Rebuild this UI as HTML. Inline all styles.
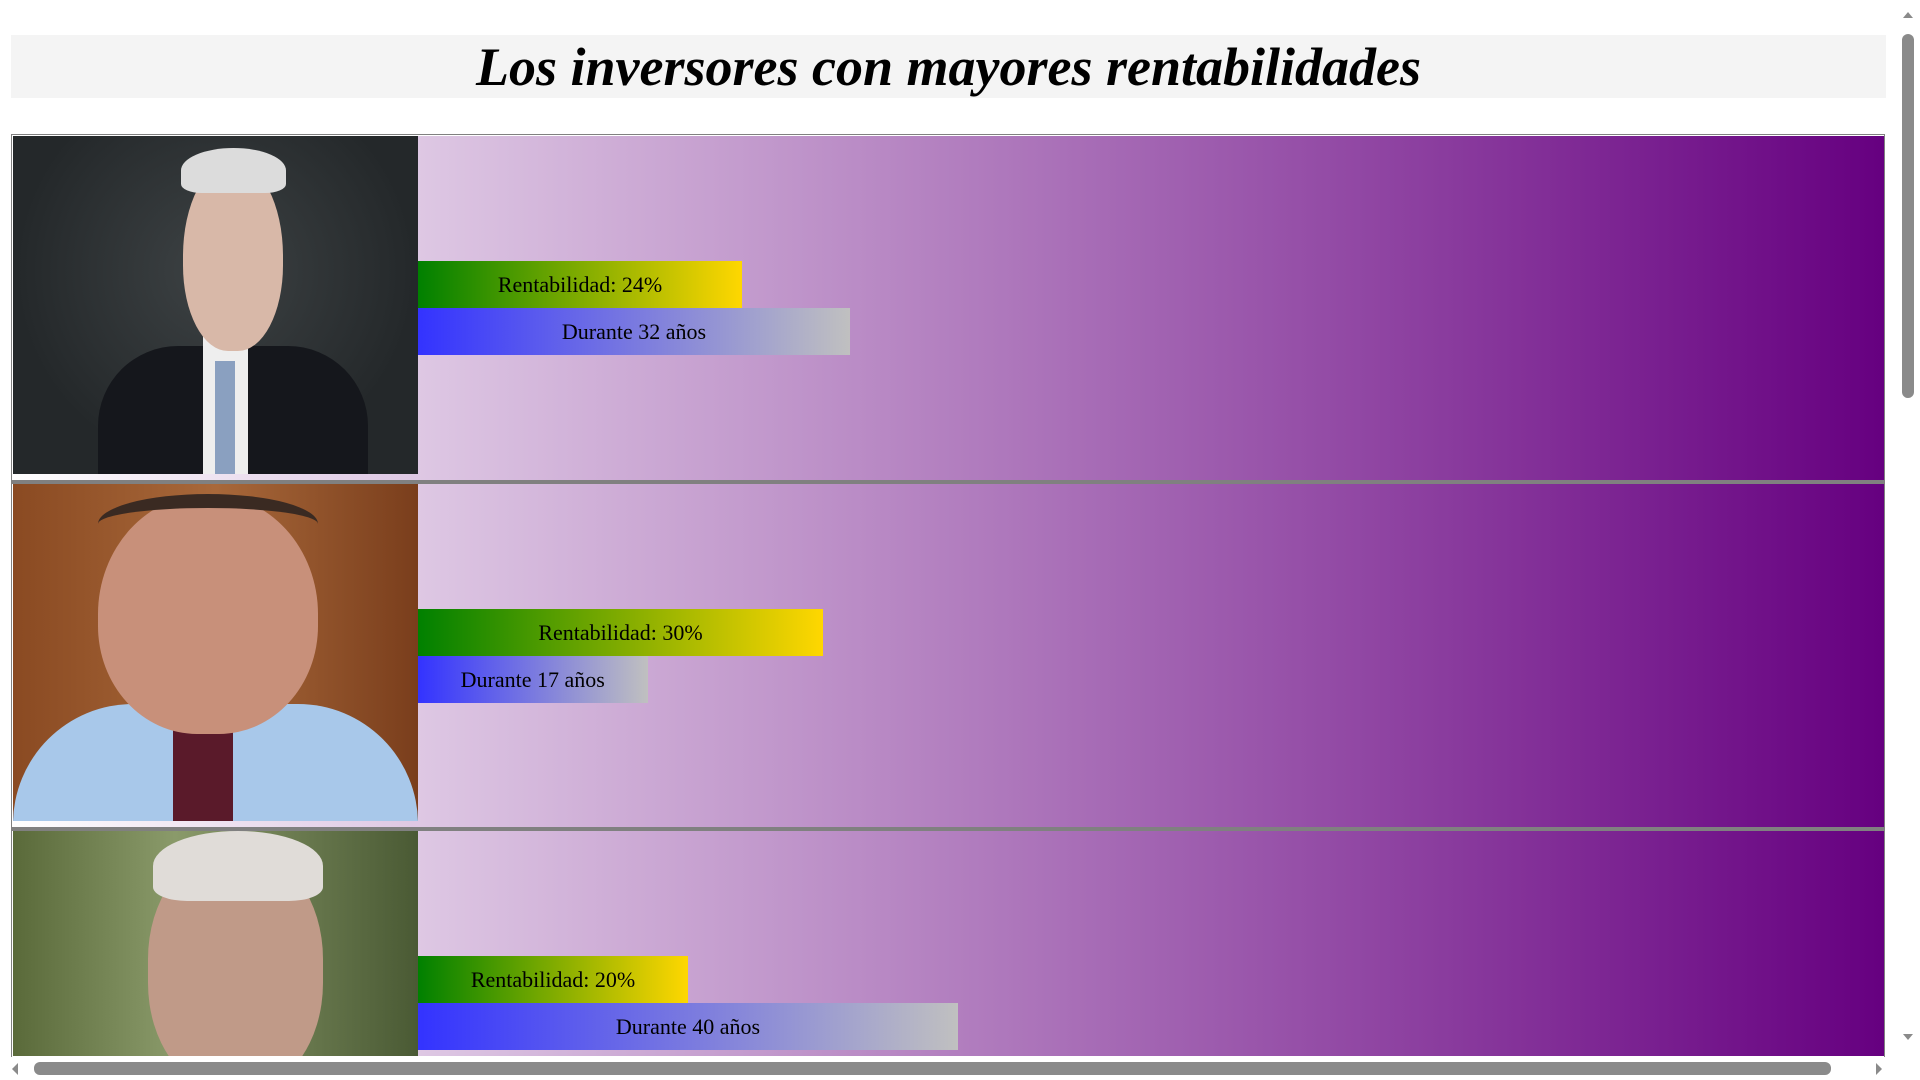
<!DOCTYPE html>
<html><head><meta charset="utf-8"><style>
html,body{margin:0;padding:0;width:1920px;height:1080px;overflow:hidden;background:#fff;font-family:"Liberation Serif",serif;}
.abs{position:absolute;}
#title{left:11px;top:35px;width:1875px;height:63px;background:#f4f4f4;text-align:center;font:italic bold 54px "Liberation Serif",serif;line-height:64px;color:#000;}
#table{left:11px;top:134px;width:1872px;height:922px;border:1px solid #808080;border-bottom:none;}
.row{position:absolute;left:12px;width:1872px;background:linear-gradient(to right,#ffffff,#660080);}
.sep{position:absolute;left:11px;width:1874px;height:4px;background:#808080;}
.photo{position:absolute;left:13px;width:405px;overflow:hidden;}
.bar{position:absolute;left:418px;height:47px;font-size:22px;line-height:47px;text-align:center;color:#000;white-space:nowrap;}
.g{background:linear-gradient(to right,#008000,#ffd700);}
.b{background:linear-gradient(to right,#3333ff,#c0c0c0);}
</style></head><body>
<div id="title" class="abs">Los inversores con mayores rentabilidades</div>
<div id="table" class="abs"></div>

<div class="row" style="top:136px;height:344px"></div>
<div class="sep" style="top:480px"></div>
<div class="row" style="top:484px;height:343px"></div>
<div class="sep" style="top:827px"></div>
<div class="row" style="top:831px;height:225px"></div>

<!-- photo 1 -->
<div class="photo" style="top:136px;height:338px;background:radial-gradient(ellipse at 50% 40%,#3d4244,#24282a 70%)">
 <div class="abs" style="left:85px;top:210px;width:270px;height:160px;background:#15171c;border-radius:80px 80px 0 0"></div>
 <div class="abs" style="left:190px;top:200px;width:45px;height:140px;background:#eee"></div>
 <div class="abs" style="left:202px;top:225px;width:20px;height:115px;background:#8aa0c0"></div>
 <div class="abs" style="left:170px;top:25px;width:100px;height:190px;background:#d8b8a8;border-radius:50% 50% 45% 45%"></div>
 <div class="abs" style="left:168px;top:12px;width:105px;height:45px;background:#dcdcdc;border-radius:50% 50% 20% 20%"></div>
</div>
<!-- photo 2 -->
<div class="photo" style="top:484px;height:337px;background:linear-gradient(to right,#8a4a22,#a8683a 50%,#7a3e1c)">
 <div class="abs" style="left:0;top:220px;width:405px;height:140px;background:#a8c8ea;border-radius:120px 120px 0 0"></div>
 <div class="abs" style="left:160px;top:235px;width:60px;height:110px;background:#5a1a2a"></div>
 <div class="abs" style="left:85px;top:10px;width:220px;height:240px;background:#c8907a;border-radius:50% 50% 45% 45%"></div>
 <div class="abs" style="left:85px;top:10px;width:220px;height:60px;border-top:14px solid #3a2a22;border-radius:50% 50% 0 0;box-sizing:border-box"></div>
</div>
<!-- photo 3 -->
<div class="photo" style="top:831px;height:225px;background:linear-gradient(to right,#5a6a3a,#8a9a6a 40%,#4a5a34)">
 <div class="abs" style="left:135px;top:20px;width:175px;height:240px;background:#c09a88;border-radius:45%"></div>
 <div class="abs" style="left:140px;top:0;width:170px;height:70px;background:#e0dcd8;border-radius:50% 50% 20% 20%"></div>
</div>

<div id="bars"></div>

<!-- scrollbars -->
<div class="abs" style="left:1900px;top:0;width:20px;height:1062px;background:#fff"></div>
<div class="abs" style="left:1902px;top:34px;width:12px;height:364px;background:#8a8a8a;border-radius:6px"></div>
<div class="abs" style="left:1903px;top:12px;width:0;height:0;border-left:5px solid transparent;border-right:5px solid transparent;border-bottom:6px solid #8a8a8a"></div>
<div class="abs" style="left:1903px;top:1034px;width:0;height:0;border-left:5px solid transparent;border-right:5px solid transparent;border-top:6px solid #8a8a8a"></div>
<div class="abs" style="left:0;top:1057px;width:1900px;height:23px;background:#fff"></div>
<div class="abs" style="left:34px;top:1062px;width:1797px;height:13px;background:#8a8a8a;border-radius:6px"></div>
<div class="abs" style="left:12px;top:1063px;width:0;height:0;border-top:6px solid transparent;border-bottom:6px solid transparent;border-right:6px solid #8a8a8a"></div>
<div class="abs" style="left:1876px;top:1063px;width:0;height:0;border-top:6px solid transparent;border-bottom:6px solid transparent;border-left:6px solid #8a8a8a"></div>

<script>
var returnsPct = [24, 30, 20];
var years = [32, 17, 40];
var rowTops = [136, 484, 831];
var pxPerUnit = 13.5;
function xLen(v){ return v * pxPerUnit; }
var host = document.getElementById('bars');
for (var i = 0; i < returnsPct.length; i++) {
  var base = rowTops[i] + 125;
  var r = document.createElement('div');
  r.className = 'bar g';
  r.style.top = base + 'px';
  r.style.width = xLen(returnsPct[i]) + 'px';
  r.textContent = 'Rentabilidad: ' + returnsPct[i] + '%';
  
  
  host.appendChild(r);
  var d = document.createElement('div');
  d.className = 'bar b';
  d.style.top = (base + 47) + 'px';
  d.style.width = xLen(years[i]) + 'px';
  d.textContent = 'Durante ' + years[i] + ' años';
  
  
  host.appendChild(d);
}
</script>
</body></html>
